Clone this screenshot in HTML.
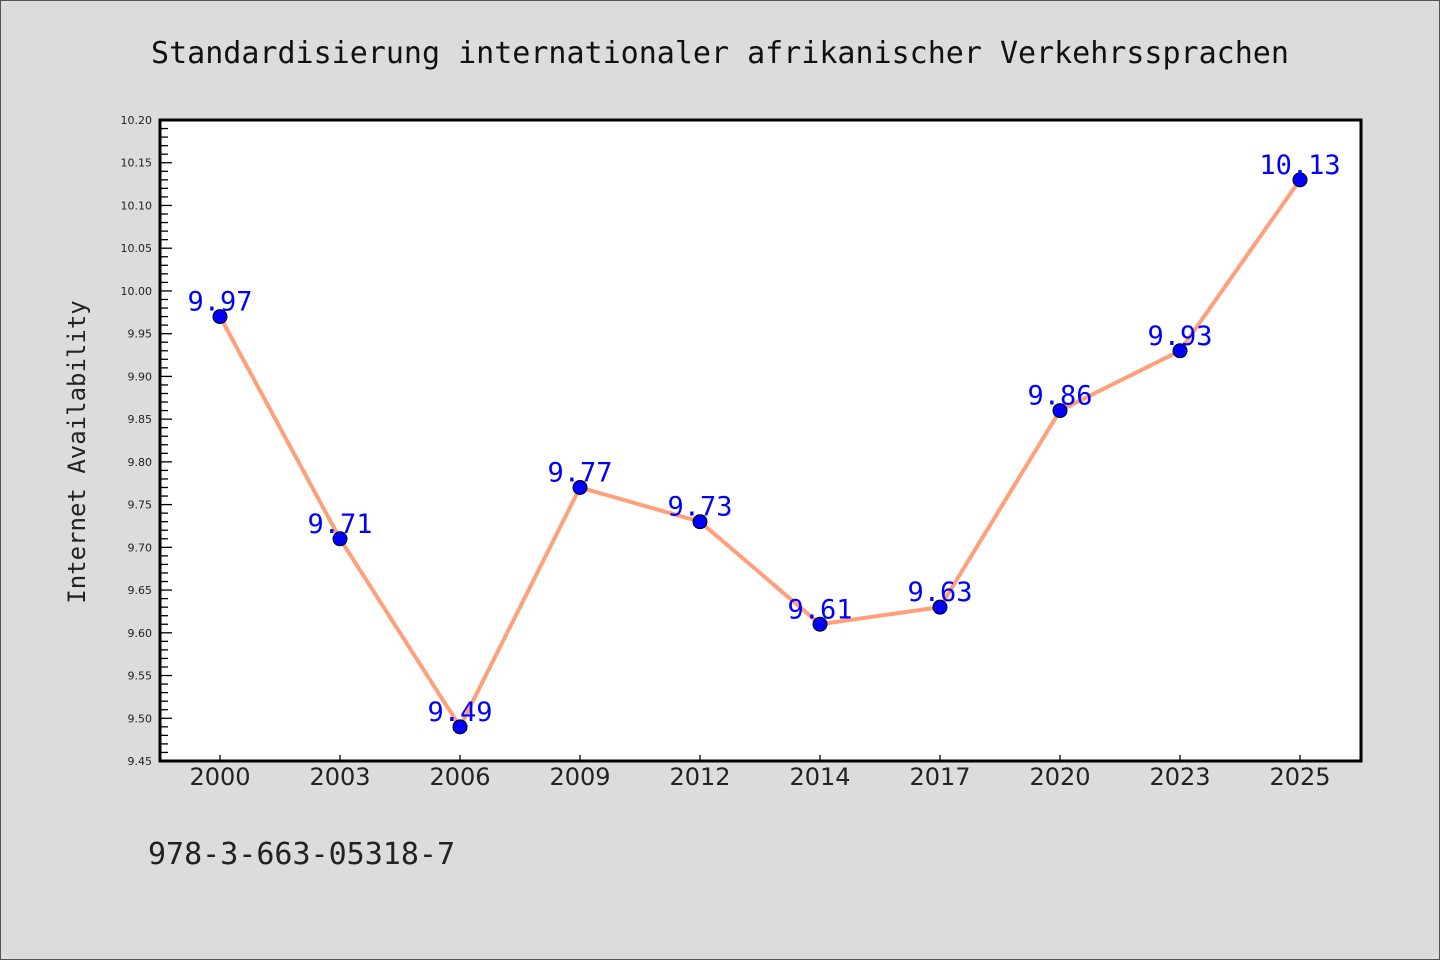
<!DOCTYPE html>
<html><head><meta charset="utf-8"><style>
body{margin:0;background:#dcdcdc;}
svg{display:block;font-family:"DejaVu Sans","Liberation Sans",sans-serif;}
</style></head><body>
<svg id="c" width="1440" height="960" xmlns="http://www.w3.org/2000/svg">
<rect x="0.5" y="0.5" width="1439" height="959" fill="#dcdcdc" stroke="#555"/>
<text x="720" y="63" text-anchor="middle" font-size="30" font-family="'DejaVu Sans Mono','Liberation Mono',monospace" fill="#111">Standardisierung internationaler afrikanischer Verkehrssprachen</text>
<rect x="160" y="120" width="1201" height="641" fill="#fff"/>
<g id="ticks"></g>
<g id="marks"></g>
<rect x="160" y="120" width="1201" height="641" fill="none" stroke="#000" stroke-width="3"/>
<text transform="translate(85,452) rotate(-90)" text-anchor="middle" font-size="24" font-family="'DejaVu Sans Mono','Liberation Mono',monospace" fill="#222">Internet Availability</text>
<text x="148" y="864" font-size="30" font-family="'DejaVu Sans Mono','Liberation Mono',monospace" fill="#222">978-3-663-05318-7</text>
</svg>
<script>
const categories=["2000","2003","2006","2009","2012","2014","2017","2020","2023","2025"];
const values=[9.97,9.71,9.49,9.77,9.73,9.61,9.63,9.86,9.93,10.13];
const yTicks=["9.45","9.50","9.55","9.60","9.65","9.70","9.75","9.80","9.85","9.90","9.95","10.00","10.05","10.10","10.15","10.20"];
const NS="http://www.w3.org/2000/svg";
const yMin=9.45,yMax=10.20,yTop=120,yBot=761,xLeft=160;
const sy=v=>yBot-(v-yMin)/(yMax-yMin)*(yBot-yTop);
const sx=i=>220+i*120;
function mk(tag,a,p){const e=document.createElementNS(NS,tag);for(const k in a)e.setAttribute(k,a[k]);p.appendChild(e);return e;}
const T=document.getElementById('ticks'),M=document.getElementById('marks');
for(let k=0;k<=75;k++){const v=yMin+k*0.01;const yy=sy(v);const major=k%5===0;
const l=mk('line',{x1:xLeft,x2:xLeft+(major?12:8),y1:yy,y2:yy,stroke:'#000','stroke-width':1.3},T);

}
yTicks.forEach(t=>{const e=mk('text',{x:152,y:sy(+t)+4,'text-anchor':'end','font-size':11,fill:'#222'},T);e.textContent=t;

});
categories.forEach((c,i)=>{const l=mk('line',{x1:sx(i),x2:sx(i),y1:yBot,y2:yBot-6,stroke:'#000','stroke-width':1.3},T);


const e=mk('text',{x:sx(i),y:785,'text-anchor':'middle','font-size':24,fill:'#222'},T);e.textContent=c;

});
const pl=mk('polyline',{points:values.map((v,i)=>sx(i)+','+sy(v)).join(' '),fill:'none',stroke:'#ffa07a','stroke-width':4,'stroke-linejoin':'round'},M);


values.forEach((v,i)=>{const c=mk('circle',{cx:sx(i),cy:sy(v),r:7,fill:'#0000ff',stroke:'#000','stroke-width':1},M);


const t=mk('text',{x:sx(i),y:sy(v)-6,'text-anchor':'middle','font-size':27,fill:'#0000ff','font-family':"'DejaVu Sans Mono','Liberation Mono',monospace"},M);t.textContent=v.toFixed(2);

});
</script>
</body></html>
